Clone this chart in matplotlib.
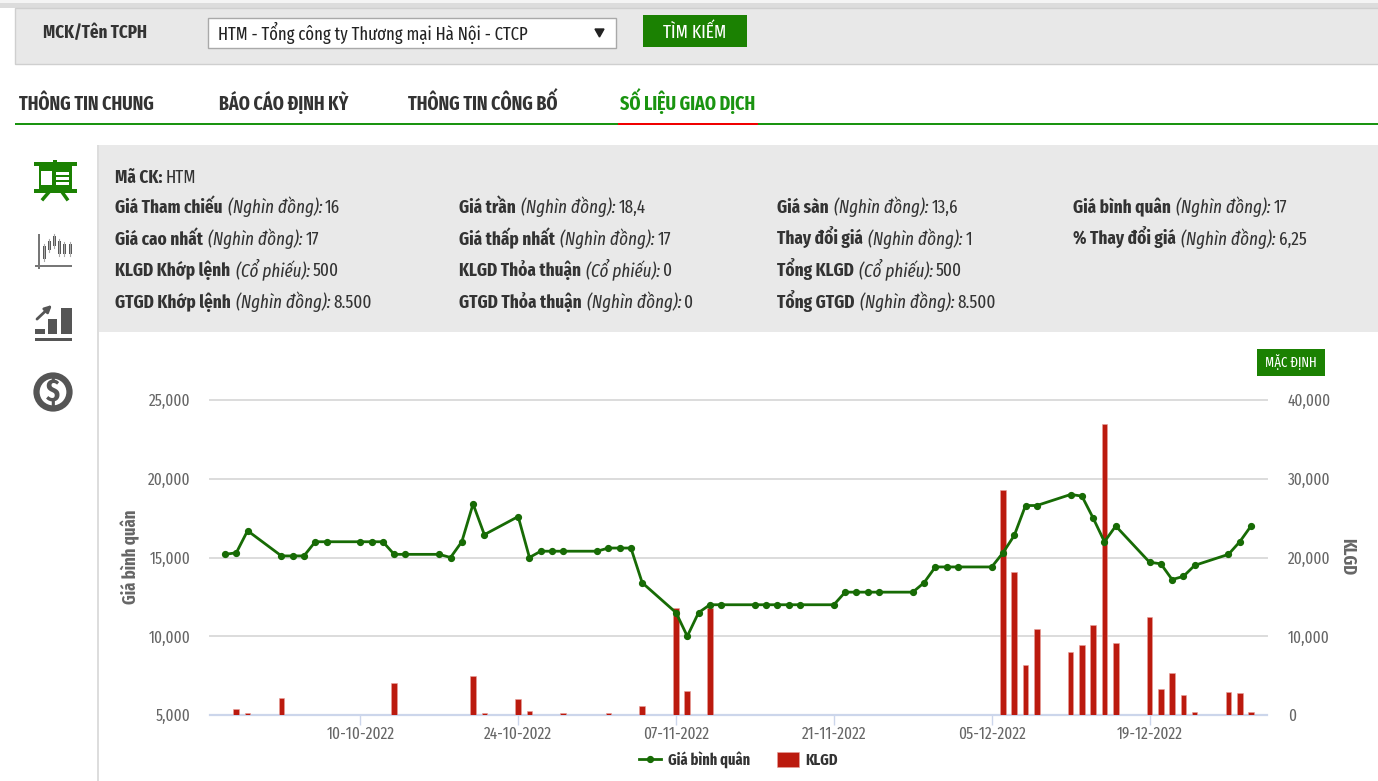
import pandas as pd
import matplotlib
matplotlib.use('Agg')
import matplotlib.pyplot as plt
import matplotlib.dates as mdates
from matplotlib.patches import Rectangle, Polygon, Circle
from matplotlib.ticker import FuncFormatter, FixedLocator

FONTS = ['Fira Sans Extra Condensed', 'DejaVu Sans']
plt.rcParams['font.family'] = FONTS

W, H = 1378, 781

# price line (nghin dong shown as 15,200 etc)
price_dates = ['09-28', '09-29', '09-30', '10-03', '10-04', '10-05', '10-06', '10-07', '10-10', '10-11',
               '10-12', '10-13', '10-14', '10-17', '10-18', '10-19', '10-20', '10-21', '10-24', '10-25',
               '10-26', '10-27', '10-28', '10-31', '11-01', '11-02', '11-03', '11-04', '11-07', '11-08',
               '11-09', '11-10', '11-11', '11-14', '11-15', '11-16', '11-17', '11-18', '11-21', '11-22',
               '11-23', '11-24', '11-25', '11-28', '11-29', '11-30', '12-01', '12-02', '12-05', '12-06',
               '12-07', '12-08', '12-09', '12-12', '12-13', '12-14', '12-15', '12-16', '12-19', '12-20',
               '12-21', '12-22', '12-23', '12-26', '12-27', '12-28']
price = [15200, 15300, 16700, 15100, 15100, 15100, 16000, 16000, 16000, 16000,
         16000, 15200, 15200, 15200, 15000, 16000, 18400, 16450, 17600, 15000,
         15400, 15400, 15400, 15400, 15600, 15600, 15600, 13400, 11500, 10000,
         11500, 12000, 12000, 12000, 12000, 12000, 12000, 12000, 12000, 12800,
         12800, 12800, 12800, 12800, 13400, 14400, 14400, 14400, 14400, 15300,
         16400, 18300, 18300, 19000, 18900, 17500, 16000, 17000, 14700, 14600,
         13600, 13800, 14500, 15200, 16000, 17000]

# volume bars
vol_dates = ['09-29', '09-30', '10-03', '10-06', '10-13', '10-18', '10-19', '10-20', '10-21', '10-24',
             '10-25', '10-26', '10-28', '11-01', '11-03', '11-04', '11-07', '11-08', '11-09', '11-10',
             '11-22', '11-29', '11-30', '12-06', '12-07', '12-08', '12-09', '12-12', '12-13', '12-14',
             '12-15', '12-16', '12-19', '12-20', '12-21', '12-22', '12-23', '12-26', '12-27', '12-28']
volume = [760, 250, 2160, 40, 4100, 50, 50, 4950, 250, 2000,
          500, 50, 250, 250, 50, 1150, 13600, 3050, 50, 13600,
          40, 40, 40, 28570, 18200, 6400, 10920, 8000, 8850, 11430,
          36950, 9190, 12490, 3300, 5380, 2580, 380, 2960, 2790, 380]

tick_dates = ['10-10', '10-24', '11-07', '11-21', '12-05', '12-19']
left_ticks = [5000, 10000, 15000, 20000, 25000]
right_ticks = [0, 10000, 20000, 30000, 40000]

GREEN = '#1b8102'
LINE_GREEN = '#176b05'
DARK = '#333333'
GREY = '#666666'


def to_date(s):
    return pd.to_datetime(['2022-' + d for d in s])


fig = plt.figure(figsize=(W / 100, H / 100), dpi=100, facecolor='white')

# page furniture in pixel coordinates
bg = fig.add_axes([0, 0, 1, 1])
bg.set_xlim(0, W)
bg.set_ylim(H, 0)
bg.axis('off')


def box(x0, y0, x1, y1, fc, ec='none', lw=0, z=1):
    bg.add_patch(Rectangle((x0, y0), x1 - x0, y1 - y0, facecolor=fc, edgecolor=ec, linewidth=lw, zorder=z))


box(0, 0, W, 3, '#f4f4f4')
box(0, 3, W, 8, '#dcdcdc')
box(15, 8, W + 5, 64, '#e8e8e8', '#cfcfcf', 1)
box(207.5, 17.5, 615.5, 48, 'white', '#a9a9a9', 1)
box(643, 15, 747, 47, GREEN)
bg.add_patch(Polygon([(595, 29), (604, 29), (599.5, 37)], color='#222222'))
box(15, 123, W, 125, '#1a9410', z=2)
box(618, 123, 758, 125, '#f00000', z=3)
box(97, 145, W, 332, '#e9e9e9')
box(97, 145, 99, H, '#dddddd', z=2)
box(100, 332, W, H, 'white')
box(1257, 349, 1325, 376, GREEN, z=5)


def txt(x, y, s, size=14, weight='normal', style='normal', color=DARK, **kw):
    kw.setdefault('va', 'baseline')
    return bg.text(x, y, s, fontsize=size, fontweight=weight, fontstyle=style, color=color, **kw)


def runs(x, y, parts, size=13.4, bold_gap=5.5):
    # bold label, italic unit, plain value one after the other
    r = fig.canvas.get_renderer()
    gaps = {'b': bold_gap, 'i': 2.5, 'n': 3}
    for s, kind in parts:
        t = txt(x, y, s, size=size, weight='bold' if kind == 'b' else 'normal',
                style='italic' if kind == 'i' else 'normal')
        x += t.get_window_extent(r).width + gaps[kind]


txt(43, 38, 'MCK/Tên TCPH', size=13.2, weight='bold')
txt(218, 40, 'HTM - Tổng công ty Thương mại Hà Nội - CTCP', size=13, color='#222222')
txt(695, 38, 'TÌM KIẾM', size=13.5, color='white', ha='center')
txt(19, 110.5, 'THÔNG TIN CHUNG', size=14, weight='bold')
txt(219, 110.5, 'BÁO CÁO ĐỊNH KỲ', size=14, weight='bold')
txt(408, 110.5, 'THÔNG TIN CÔNG BỐ', size=14, weight='bold')
txt(620, 110.5, 'SỐ LIỆU GIAO DỊCH', size=14, weight='bold', color='#1a9410')
txt(1291, 367, 'MẶC ĐỊNH', size=10, color='white', ha='center', zorder=6)

N = '(Nghìn đồng):'
C = '(Cổ phiếu):'
runs(115, 183, [('Mã CK:', 'b'), ('HTM', 'n')], bold_gap=3)
rows = [
    (213, [(115, 'Giá Tham chiếu', N, '16'), (459, 'Giá trần', N, '18,4'),
           (777, 'Giá sàn', N, '13,6'), (1073, 'Giá bình quân', N, '17')]),
    (245, [(115, 'Giá cao nhất', N, '17'), (459, 'Giá thấp nhất', N, '17'),
           (777, 'Thay đổi giá', N, '1'), (1073, '% Thay đổi giá', N, '6,25')]),
    (276.5, [(115, 'KLGD Khớp lệnh', C, '500'), (459, 'KLGD Thỏa thuận', C, '0'),
             (777, 'Tổng KLGD', C, '500')]),
    (308, [(115, 'GTGD Khớp lệnh', N, '8.500'), (459, 'GTGD Thỏa thuận', N, '0'),
           (777, 'Tổng GTGD', N, '8.500')]),
]
for y, cells in rows:
    for x, label, unit, val in cells:
        runs(x, y, [(label, 'b'), (unit, 'i'), (val, 'n')])

# side icons
box(39, 164, 72, 190, GREEN, z=2)
box(34, 162, 77, 166, GREEN, z=3)
box(34, 189, 77, 193, GREEN, z=3)
box(41, 171, 52, 185, 'white', z=3)
for yy in (172, 177, 182):
    box(56, yy, 69, yy + 2.5, 'white', z=3)
box(53, 160, 57, 163, GREEN, z=3)
bg.plot([49, 43], [192, 199], color=GREEN, lw=2.5)
bg.plot([62, 67], [192, 199], color=GREEN, lw=2.5)

box(38, 234, 40, 269, '#777777')
box(35, 265, 72, 267, '#777777')
for xx, y0, y1 in [(44, 246, 259), (49, 241, 250), (54, 236, 246), (59, 241, 254), (64, 244, 254), (70, 244, 254)]:
    bg.plot([xx, xx], [y0 - 2, y1 + 2], color='#aaaaaa', lw=0.8)
    box(xx - 1.5, y0, xx + 1.5, y1, '#555555')

box(35, 329, 45, 334, '#555555')
box(48, 319, 57, 334, '#555555')
box(61, 308, 72, 334, '#555555')
box(35, 338, 72, 341, '#555555')
bg.annotate('', xy=(54, 303), xytext=(35, 321), arrowprops=dict(arrowstyle='-|>', color='#555555', lw=2))

bg.add_patch(Circle((53, 392), 16.5, facecolor='white', edgecolor='#555555', linewidth=4.5))
txt(53, 392, '$', size=22, weight='bold', color='#555555', ha='center', va='center')

# chart, pixel box 210..1267 x 400..715
ax2 = fig.add_axes([210 / W, 1 - 715 / H, (1267 - 210) / W, 315 / H])
ax = ax2.twinx()
ax.yaxis.tick_left()
ax.yaxis.set_label_position('left')
ax2.yaxis.tick_right()
ax2.yaxis.set_label_position('right')
ax.set_zorder(ax2.get_zorder() + 1)
ax.patch.set_visible(False)
ax2.patch.set_visible(False)

bars = ax2.bar(to_date(vol_dates), volume, width=0.5, color='#bb1a0e', edgecolor='#e8a09a', linewidth=0.4, label='KLGD', zorder=3)
line, = ax.plot(to_date(price_dates), price, color=LINE_GREEN, lw=2, marker='o', ms=4.2, label='Giá bình quân', zorder=4)

ax.set_xlim(pd.Timestamp('2022-09-26 16:00'), pd.Timestamp('2022-12-29 10:00'))
ax.set_ylim(5000, 25000)
ax2.set_ylim(0, 40000)
ax2.xaxis.set_major_locator(FixedLocator(mdates.date2num(to_date(tick_dates))))
ax2.xaxis.set_major_formatter(mdates.DateFormatter('%d-%m-%Y'))
ax.set_yticks(left_ticks)
ax2.set_yticks(right_ticks)
fmt = FuncFormatter(lambda v, p: f'{int(v):,}')
ax.yaxis.set_major_formatter(fmt)
ax2.yaxis.set_major_formatter(fmt)

ax2.grid(axis='y', color='#dcdcdc', lw=1.4, zorder=0)
ax2.set_axisbelow(True)
for g in ax2.get_ygridlines():
    g.set_clip_on(False)
for a in (ax, ax2):
    for sp in a.spines.values():
        sp.set_visible(False)
ax2.spines['bottom'].set_visible(True)
ax2.spines['bottom'].set_color('#ccd6eb')
ax2.spines['bottom'].set_linewidth(1.6)

ax2.tick_params(axis='x', length=7, width=1, color='#ccd6eb', labelsize=12, labelcolor=GREY, pad=1)
ax.tick_params(axis='y', length=0, labelsize=12, labelcolor=GREY, pad=14)
ax2.tick_params(axis='y', length=0, labelsize=12, labelcolor=GREY, pad=15)

txt(130, 557, 'Giá bình quân', size=13, weight='bold', color=GREY, rotation=90, ha='center', va='center', zorder=6)
txt(1347, 557, 'KLGD', size=13, weight='bold', color=GREY, rotation=270, ha='center', va='center', zorder=6)

fig.legend([line, bars], ['Giá bình quân', 'KLGD'], loc='center', bbox_to_anchor=(738.5 / W, 1 - 760 / H),
           ncol=2, frameon=False, handlelength=1.4, handleheight=1.1, handletextpad=0.45, columnspacing=1.7,
           prop={'family': FONTS, 'weight': 'bold', 'size': 11.3}, labelcolor=DARK)

fig.savefig('out.png', dpi=100)
